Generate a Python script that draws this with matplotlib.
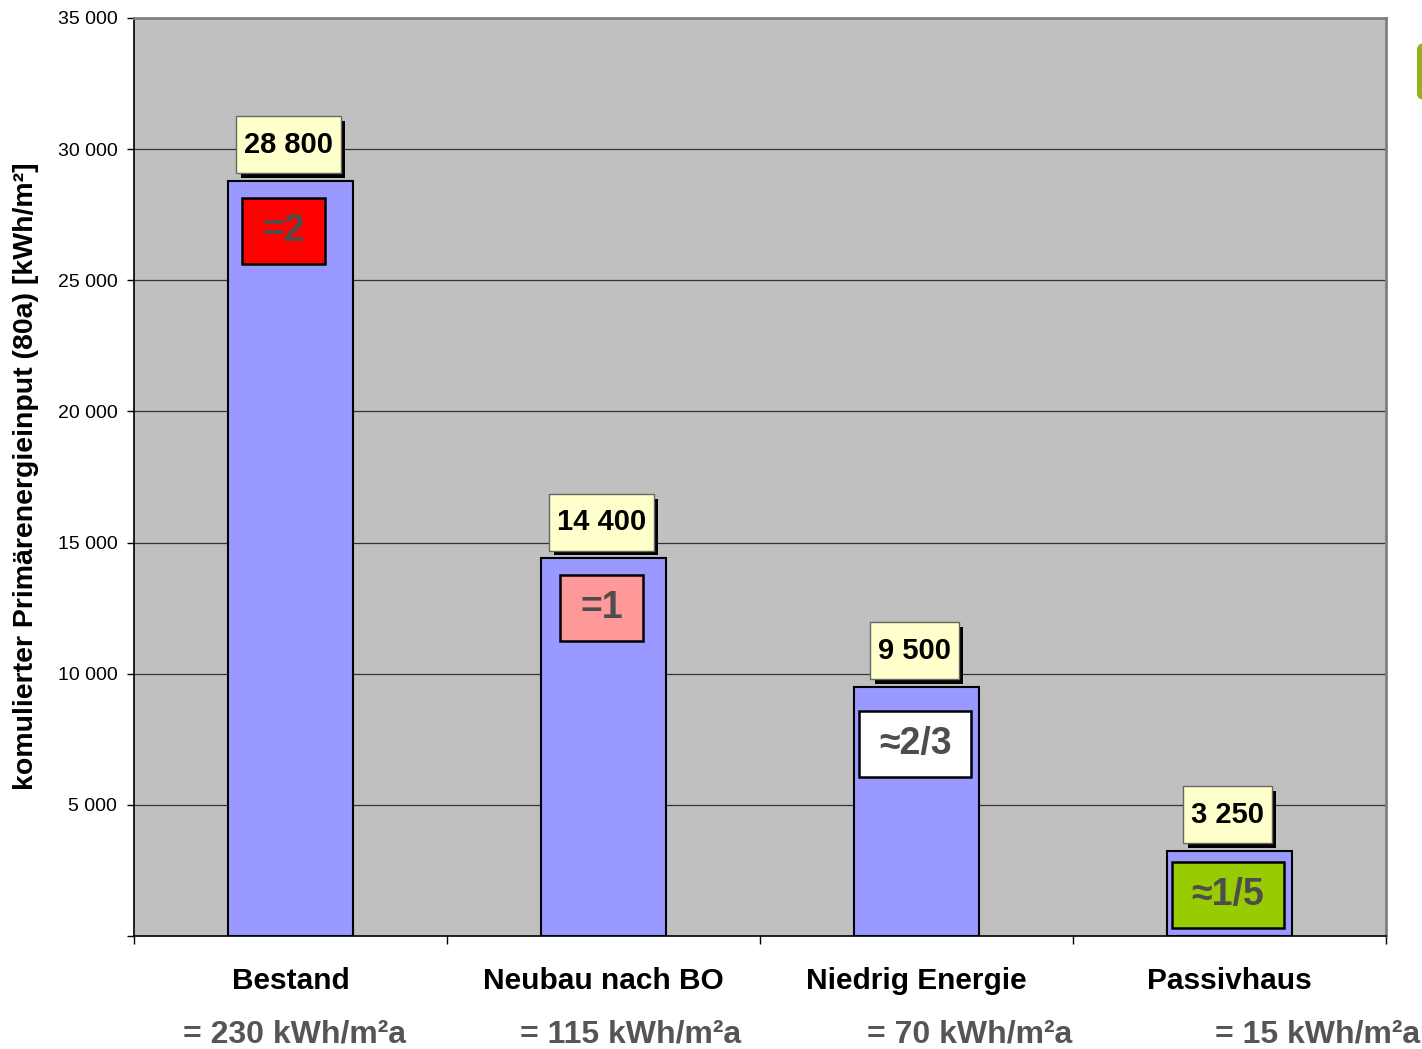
import matplotlib
matplotlib.use('Agg')
import matplotlib.pyplot as plt
import matplotlib.patheffects as pe
from matplotlib.patches import FancyBboxPatch

plt.rcParams['font.family'] = ['Liberation Sans', 'DejaVu Sans']

categories = ['Bestand', 'Neubau nach BO', 'Niedrig Energie', 'Passivhaus']
demand = ['= 230 kWh/m²a', '= 115 kWh/m²a', '= 70 kWh/m²a', '= 15 kWh/m²a']
values = [28800, 14400, 9500, 3250]
value_labels = ['28 800', '14 400', '9 500', '3 250']
ratios = ['=2', '=1', '≈2/3', '≈1/5']
ratio_colors = ['#FF0000', '#FF9999', '#FFFFFF', '#99CC00']
yticks = [5000, 10000, 15000, 20000, 25000, 30000, 35000]
ytick_labels = ['5 000', '10 000', '15 000', '20 000', '25 000', '30 000', '35 000']

# layout tweaks (points / axis units)
ratio_dx = [-4, -0.5, 0, 0]
ratio_drop = [36, 36, 41, 32]
demand_shift = [0.014, 0.088, 0.171, 0.280]

fig = plt.figure(figsize=(14.22, 10.49), dpi=100)
ax = fig.add_axes([134 / 1422, 1 - 936 / 1049, 1252 / 1422, 918 / 1049])
ax.set_facecolor('#C0C0C0')

x = range(len(values))
ax.bar(x, values, width=0.4, color='#9999FF', edgecolor='black', linewidth=1.5, zorder=3)

ax.set_xlim(-0.5, 3.5)
ax.set_ylim(0, 35000)
ax.set_yticks(yticks)
ax.set_yticklabels(ytick_labels, fontsize=14)
ax.set_yticks([0], minor=True)
ax.tick_params(axis='y', which='both', direction='out', length=5, width=1, pad=7)
ax.set_xticks([-0.5, 0.5, 1.5, 2.5, 3.5])
ax.set_xticklabels([])
ax.tick_params(axis='x', direction='out', length=6, width=1)
ax.grid(axis='y', color='#333333', linewidth=0.9, zorder=1)
ax.set_axisbelow(True)
for s in ['left', 'bottom']:
    ax.spines[s].set_color('black')
    ax.spines[s].set_linewidth(1.2)
for s in ['right', 'top']:
    ax.spines[s].set_color('#808080')
    ax.spines[s].set_linewidth(2)

shadow = [pe.SimplePatchShadow(offset=(3.5, -3.5), shadow_rgbFace='black', alpha=1.0), pe.Normal()]
for i, (v, lab) in enumerate(zip(values, value_labels)):
    t = ax.annotate(lab, (i, v), xytext=(-1.5, 26), textcoords='offset points',
                    ha='center', va='center', fontsize=21, fontweight='bold', color='black',
                    bbox=dict(boxstyle='square,pad=0.26', mutation_aspect=1.9,
                              fc='#FFFFCC', ec='#666666', lw=1),
                    zorder=6)
    t.get_bbox_patch().set_path_effects(shadow)

for i, (v, r, c) in enumerate(zip(values, ratios, ratio_colors)):
    ax.annotate(r, (i, v), xytext=(ratio_dx[i] - 1, -ratio_drop[i]), textcoords='offset points',
                ha='center', va='center', fontsize=27, fontweight='bold', color='#4D4D4D',
                bbox=dict(boxstyle='square,pad=0.53', mutation_aspect=0.75,
                          fc=c, ec='black', lw=1.8),
                zorder=6)

for i, cat in enumerate(categories):
    ax.text(i, -0.049, cat, transform=ax.get_xaxis_transform(), ha='center', va='center',
            fontsize=21.5, fontweight='bold', color='black')

for i, d in enumerate(demand):
    ax.text(i + demand_shift[i], -0.107, d, transform=ax.get_xaxis_transform(),
            ha='center', va='center', fontsize=23, fontweight='bold', color='#555555')

fig.text(26 / 1422, 1 - 476 / 1049, 'komulierter Primärenergieinput (80a) [kWh/m²]',
         rotation=90, ha='center', va='center', fontsize=20.5, fontweight='bold')

# cut-off green shape at right edge
fig.patches.append(FancyBboxPatch((1417 / 1422, 1 - 100 / 1049), 0.02, 57 / 1049,
                                  boxstyle='round,pad=0,rounding_size=0.006',
                                  transform=fig.transFigure, fc='#9AAE1E', ec='none'))

fig.savefig('out.png', dpi=100, facecolor='white')
